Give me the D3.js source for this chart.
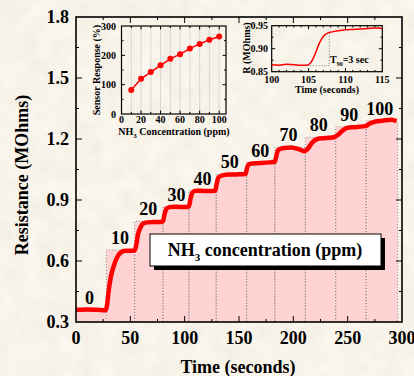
<!DOCTYPE html>
<html>
<head>
  <meta charset="utf-8">
  <script src="https://d3js.org/d3.v7.min.js"></script>
  <style>
    body { margin: 0; padding: 0; background: #eee5d0; }
    svg text { font-family: "Liberation Serif", "Times New Roman", serif; font-weight: bold; fill: #000; }
  </style>
</head>
<body>
<script>
  "use strict";

  // main response curve
  var timeSec = [0, 10, 20, 27, 28.5, 30, 32, 35, 38, 42, 46, 50, 54, 55.5, 57, 59, 62, 66, 72, 78,
                 80, 81.5, 83, 86, 90, 96, 102, 104, 105.5, 107, 110, 115, 122, 128, 129.5, 131, 134, 140,
                 148, 156, 157.5, 159, 162, 170, 178, 183, 184.5, 186, 190, 198, 205, 210, 213, 217,
                 222, 230, 238, 241, 245, 250, 256, 264, 267, 270, 275, 282, 290, 295];
  var resistance = [0.36, 0.362, 0.36, 0.358, 0.38, 0.45, 0.52, 0.58, 0.62, 0.645, 0.65, 0.65, 0.652, 0.68,
                    0.73, 0.76, 0.785, 0.79, 0.792, 0.792, 0.795, 0.83, 0.855, 0.865, 0.867, 0.866, 0.866,
                    0.87, 0.91, 0.935, 0.945, 0.945, 0.944, 0.945, 0.98, 1.01, 1.02, 1.025, 1.026, 1.028,
                    1.06, 1.075, 1.08, 1.082, 1.085, 1.088, 1.12, 1.145, 1.155, 1.158, 1.15, 1.14, 1.15,
                    1.18, 1.2, 1.205, 1.21, 1.22, 1.24, 1.255, 1.258, 1.262, 1.265, 1.275, 1.285, 1.29,
                    1.295, 1.288];

  // gas exposure steps
  var stepStart = [0, 28, 54, 80, 104, 129, 157, 183, 211, 239, 267];
  var stepEnd = [28, 54, 80, 104, 129, 157, 183, 211, 239, 267, 296];
  var stepLevel = [0.36, 0.654, 0.795, 0.868, 0.946, 1.026, 1.084, 1.159, 1.208, 1.26, 1.29];
  var stepLabel = ["0", "10", "20", "30", "40", "50", "60", "70", "80", "90", "100"];

  // inset 1: sensor response vs concentration
  var concPpm = [10, 20, 30, 40, 50, 60, 70, 80, 90, 100];
  var responsePct = [82, 120, 143, 166, 188, 204, 223, 239, 253, 264];

  // inset 2: zoom on the 40 ppm step
  var zoomTime = [100, 101, 102, 103, 104, 104.7, 105.2, 105.6, 106, 106.4, 106.8, 107.2, 107.6, 108,
                  109, 110, 111, 112, 113, 114, 114.5, 115];
  var zoomR = [0.865, 0.864, 0.866, 0.865, 0.864, 0.864, 0.868, 0.878, 0.893, 0.91, 0.922, 0.93, 0.934,
               0.936, 0.939, 0.941, 0.942, 0.943, 0.944, 0.945, 0.945, 0.943];

  var W = 414, H = 376;
  var svg = d3.select("body").append("svg").attr("width", W).attr("height", H);

  /* paper texture */
  var defs = svg.append("defs");
  var f = defs.append("filter").attr("id", "paper").attr("x", 0).attr("y", 0).attr("width", "100%").attr("height", "100%");
  f.append("feTurbulence").attr("type", "fractalNoise").attr("baseFrequency", 0.05).attr("numOctaves", 3).attr("seed", 4);
  f.append("feColorMatrix").attr("type", "matrix")
    .attr("values", "0 0 0 0.12 0.875  0 0 0 0.12 0.84  0 0 0 0.14 0.75  0 0 0 0 1");
  svg.append("rect").attr("width", W).attr("height", H).attr("filter", "url(#paper)");

  /* main chart */
  var x = d3.scaleLinear().domain([0, 300]).range([76, 402]);
  var y = d3.scaleLinear().domain([0.3, 1.8]).range([322, 17]);

  var steps = stepStart.map(function(s, i) {
    return {s: s, e: stepEnd[i], v: stepLevel[i], label: stepLabel[i]};
  });

  svg.append("g").selectAll("rect").data(steps).enter().append("rect")
    .attr("x", function(d) { return x(d.s); })
    .attr("y", function(d) { return y(d.v); })
    .attr("width", function(d) { return x(d.e) - x(d.s); })
    .attr("height", function(d) { return y(0.3) - y(d.v); })
    .attr("fill", "#ffd3d3");

  // dotted outlines of the steps
  var dots = svg.append("g").attr("fill", "none").attr("stroke", "#777").attr("stroke-width", 0.8).attr("stroke-dasharray", "1,2");
  steps.slice(1).forEach(function(d) {
    dots.append("path").attr("d", "M" + x(d.s) + "," + y(0.3) + "V" + y(d.v) + "H" + x(d.e) + "V" + y(0.3));
  });

  var pts = timeSec.map(function(t, i) { return [t, resistance[i]]; });
  svg.append("path").datum(pts)
    .attr("fill", "none").attr("stroke", "#ff0000").attr("stroke-width", 4.5).attr("stroke-linejoin", "round")
    .attr("d", d3.line().x(function(d) { return x(d[0]); }).y(function(d) { return y(d[1]); }).curve(d3.curveMonotoneX));

  svg.append("g").selectAll("text").data(steps).enter().append("text")
    .attr("x", function(d) { return x(d.s + 12.5); })
    .attr("y", function(d) { return y(d.v) - 6; })
    .attr("text-anchor", "middle").style("font-size", "18px")
    .text(function(d) { return d.label; });

  // axes, ticks inward
  function frame(g, sx, sy, major, minor) {
    g.append("rect").attr("x", sx.range()[0]).attr("y", sy.range()[1])
      .attr("width", sx.range()[1] - sx.range()[0]).attr("height", sy.range()[0] - sy.range()[1])
      .attr("fill", "none").attr("stroke", "#000").attr("stroke-width", major.w);
    [[major.xt, major.len], [minor.xt, minor.len]].forEach(function(p) {
      p[0].forEach(function(v) {
        g.append("line").attr("x1", sx(v)).attr("x2", sx(v)).attr("y1", sy.range()[0]).attr("y2", sy.range()[0] - p[1]).attr("stroke", "#000");
        g.append("line").attr("x1", sx(v)).attr("x2", sx(v)).attr("y1", sy.range()[1]).attr("y2", sy.range()[1] + p[1]).attr("stroke", "#000");
      });
    });
    [[major.yt, major.len], [minor.yt, minor.len]].forEach(function(p) {
      p[0].forEach(function(v) {
        g.append("line").attr("y1", sy(v)).attr("y2", sy(v)).attr("x1", sx.range()[0]).attr("x2", sx.range()[0] + p[1]).attr("stroke", "#000");
        g.append("line").attr("y1", sy(v)).attr("y2", sy(v)).attr("x1", sx.range()[1]).attr("x2", sx.range()[1] - p[1]).attr("stroke", "#000");
      });
    });
  }

  var mainAxes = svg.append("g");
  frame(mainAxes, x, y,
    {xt: [50, 100, 150, 200, 250], yt: [0.6, 0.9, 1.2, 1.5], len: 6, w: 1.6},
    {xt: [25, 75, 125, 175, 225, 275], yt: [0.45, 0.75, 1.05, 1.35, 1.65], len: 3});

  svg.append("g").selectAll("text").data([0, 50, 100, 150, 200, 250, 300]).enter().append("text")
    .attr("x", function(d) { return x(d); }).attr("y", 344)
    .attr("text-anchor", "middle").style("font-size", "18px")
    .text(function(d) { return d; });
  svg.append("g").selectAll("text").data([0.3, 0.6, 0.9, 1.2, 1.5, 1.8]).enter().append("text")
    .attr("x", 69).attr("y", function(d) { return y(d) + 6; })
    .attr("text-anchor", "end").style("font-size", "18px")
    .text(function(d) { return d3.format(".1f")(d); });

  svg.append("text").attr("x", 238).attr("y", 373).attr("text-anchor", "middle").style("font-size", "18px")
    .text("Time (seconds)");
  svg.append("text").attr("transform", "translate(28,175) rotate(-90)").attr("text-anchor", "middle").style("font-size", "18px")
    .text("Resistance (MOhms)");

  // legend box
  svg.append("rect").attr("x", 154).attr("y", 238).attr("width", 231).attr("height", 32).attr("fill", "#000");
  svg.append("rect").attr("x", 150).attr("y", 234).attr("width", 231).attr("height", 32).attr("fill", "#fff").attr("stroke", "#000").attr("stroke-width", 1);
  var lt = svg.append("text").attr("x", 265).attr("y", 256).attr("text-anchor", "middle").style("font-size", "18px");
  lt.append("tspan").text("NH");
  lt.append("tspan").attr("dy", 5).style("font-size", "11px").text("3");
  lt.append("tspan").attr("dy", -5).text(" concentration (ppm)");

  /* inset 1 */
  var ix = d3.scaleLinear().domain([0, 107]).range([121.5, 226]);
  var iy = d3.scaleLinear().domain([0, 300]).range([114, 26]);
  var in1 = svg.append("g");
  in1.append("g").selectAll("line").data(d3.range(10, 107, 10)).enter().append("line")
    .attr("x1", function(d) { return ix(d); }).attr("x2", function(d) { return ix(d); })
    .attr("y1", iy(0)).attr("y2", iy(300)).attr("stroke", "#bbb").attr("stroke-width", 0.5);
  frame(in1, ix, iy,
    {xt: [20, 40, 60, 80, 100], yt: [100, 200], len: 3.5, w: 1.2},
    {xt: [10, 30, 50, 70, 90], yt: [50, 150, 250], len: 2});
  var ipts = concPpm.map(function(c, i) { return [c, responsePct[i]]; });
  in1.append("path").datum(ipts).attr("fill", "none").attr("stroke", "#ff0000").attr("stroke-width", 1.5)
    .attr("d", d3.line().x(function(d) { return ix(d[0]); }).y(function(d) { return iy(d[1]); }));
  in1.append("g").selectAll("circle").data(ipts).enter().append("circle")
    .attr("cx", function(d) { return ix(d[0]); }).attr("cy", function(d) { return iy(d[1]); })
    .attr("r", 3).attr("fill", "#ff0000");
  in1.append("g").selectAll("text").data([0, 20, 40, 60, 80, 100]).enter().append("text")
    .attr("x", function(d) { return ix(d); }).attr("y", 123).attr("text-anchor", "middle").style("font-size", "10px")
    .text(function(d) { return d; });
  in1.append("g").selectAll("text").data([0, 100, 200, 300]).enter().append("text")
    .attr("x", 116).attr("y", function(d) { return iy(d) + 3.5; }).attr("text-anchor", "end").style("font-size", "10px")
    .text(function(d) { return d; });
  var ixl = in1.append("text").attr("x", 174).attr("y", 135).attr("text-anchor", "middle").style("font-size", "10px");
  ixl.append("tspan").text("NH");
  ixl.append("tspan").attr("dy", 3).style("font-size", "7px").text("3");
  ixl.append("tspan").attr("dy", -3).text(" Concentration (ppm)");
  in1.append("text").attr("transform", "translate(100,70) rotate(-90)").attr("text-anchor", "middle").style("font-size", "10px")
    .text("Sensor Response (%)");

  /* inset 2 */
  var zx = d3.scaleLinear().domain([100, 115]).range([271.7, 382.3]);
  var zy = d3.scaleLinear().domain([0.85, 0.95]).range([71.7, 25.7]);
  var in2 = svg.append("g");
  frame(in2, zx, zy,
    {xt: [105, 110], yt: [0.9], len: 3.5, w: 1.2},
    {xt: [101, 102, 103, 104, 106, 107, 108, 109, 111, 112, 113, 114], yt: [0.875, 0.925], len: 1.8});
  in2.append("path").attr("fill", "none").attr("stroke", "#999").attr("stroke-width", 1).attr("stroke-dasharray", "1.5,1.5")
    .attr("d", "M" + zx(104.75) + "," + zy(0.863) + "H" + zx(107.8) + "V" + zy(0.936));
  var zpts = zoomTime.map(function(t, i) { return [t, zoomR[i]]; });
  in2.append("path").datum(zpts).attr("fill", "none").attr("stroke", "#ff0000").attr("stroke-width", 1.5)
    .attr("d", d3.line().x(function(d) { return zx(d[0]); }).y(function(d) { return zy(d[1]); }).curve(d3.curveMonotoneX));
  in2.append("g").selectAll("text").data([100, 105, 110, 115]).enter().append("text")
    .attr("x", function(d) { return zx(d); }).attr("y", 83).attr("text-anchor", "middle").style("font-size", "10px")
    .text(function(d) { return d; });
  in2.append("g").selectAll("text").data([0.85, 0.90, 0.95]).enter().append("text")
    .attr("x", 268).attr("y", function(d) { return zy(d) + 3.5; }).attr("text-anchor", "end").style("font-size", "10px")
    .text(function(d) { return d3.format(".2f")(d); });
  in2.append("text").attr("x", 327).attr("y", 93).attr("text-anchor", "middle").style("font-size", "10px")
    .text("Time (seconds)");
  in2.append("text").attr("transform", "translate(250,48) rotate(-90)").attr("text-anchor", "middle").style("font-size", "10px")
    .text("R (MOhms)");
  var tl = in2.append("text").attr("x", 330).attr("y", 63).style("font-size", "10px");
  tl.append("tspan").text("T");
  tl.append("tspan").attr("dy", 2.5).style("font-size", "6px").text("90");
  tl.append("tspan").attr("dy", -2.5).text("=3 sec");
</script>
</body>
</html>
